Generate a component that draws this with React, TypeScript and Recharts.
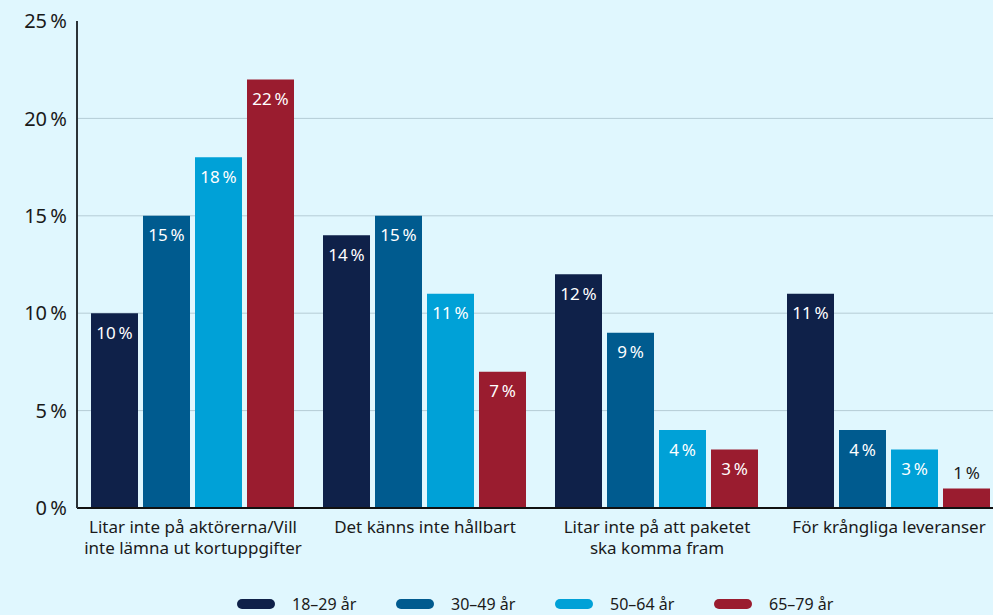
import { Bar, BarChart, CartesianGrid, LabelList, Legend, XAxis, YAxis } from "recharts";

const categories = [
  "Litar inte på aktörerna/Vill inte lämna ut kortuppgifter",
  "Det känns inte hållbart",
  "Litar inte på att paketet ska komma fram",
  "För krångliga leveranser",
];
const categoryLines = [
  ["Litar inte på aktörerna/Vill", "inte lämna ut kortuppgifter"],
  ["Det känns inte hållbart"],
  ["Litar inte på att paketet", "ska komma fram"],
  ["För krångliga leveranser"],
];
const age18to29 = [10, 14, 12, 11];
const age30to49 = [15, 15, 9, 4];
const age50to64 = [18, 11, 4, 3];
const age65to79 = [22, 7, 3, 1];
const yTicks = [0, 5, 10, 15, 20, 25];

const series = [
  { key: "a", name: "18–29 år", color: "#0f2149" },
  { key: "b", name: "30–49 år", color: "#005b8f" },
  { key: "c", name: "50–64 år", color: "#00a1d7" },
  { key: "d", name: "65–79 år", color: "#9a1c2f" },
];

const data = categories.map((c, i) => ({
  name: c,
  a: age18to29[i],
  b: age30to49[i],
  c: age50to64[i],
  d: age65to79[i],
}));

const FONT = "'Noto Sans', sans-serif";
const pct = (v: number) => `${v}\u202F%`;

function BarLabel(props: any) {
  const { x, y, width, height, value } = props;
  const inside = height > 30;
  return (
    <text
      x={x + width / 2}
      y={inside ? y + 19 : y - 16}
      textAnchor="middle"
      dominantBaseline="central"
      fill={inside ? "#ffffff" : "#1a1a1a"}
      fontSize={17}
      fontFamily={FONT}
    >
      {pct(value)}
    </text>
  );
}

function CategoryTick(props: any) {
  const { x, y, index } = props;
  const lines = categoryLines[index] ?? [];
  return (
    <g transform={`translate(${x},${y})`}>
      {lines.map((l: string, i: number) => (
        <text
          key={i}
          x={0}
          y={10 + i * 21}
          textAnchor="middle"
          dominantBaseline="central"
          fill="#1a1a1a"
          fontSize={17}
          fontFamily={FONT}
        >
          {l}
        </text>
      ))}
    </g>
  );
}

function LegendContent() {
  return (
    <div
      style={{
        display: "flex",
        justifyContent: "flex-start",
        paddingLeft: 237,
        fontFamily: FONT,
        fontSize: 16,
        lineHeight: "20px",
        height: 20,
        color: "#1a1a1a",
      }}
    >
      {series.map((s) => (
        <div key={s.key} style={{ display: "flex", alignItems: "center", width: 159 }}>
          <span
            style={{
              display: "inline-block",
              width: 38,
              height: 10,
              borderRadius: 5,
              background: s.color,
              marginRight: 17,
            }}
          />
          <span>{s.name}</span>
        </div>
      ))}
    </div>
  );
}

export default function App() {
  return (
    <div style={{ width: 993, height: 615, background: "#e0f7fe", overflow: "hidden" }}>
      <style>{"body{margin:0;background:#e0f7fe}"}</style>
      <BarChart
        width={1005}
        height={615}
        data={data}
        margin={{ top: 21, right: 0, bottom: 0, left: 0 }}
        barCategoryGap={14}
        barGap={5}
      >
        <CartesianGrid vertical={false} stroke="#b5ccd6" horizontalValues={[5, 10, 15, 20]} />
        <XAxis
          dataKey="name"
          height={83}
          tickLine={false}
          axisLine={{ stroke: "#111111", strokeWidth: 2 }}
          tick={<CategoryTick />}
          interval={0}
        />
        <YAxis
          width={77}
          domain={[0, 25]}
          ticks={yTicks}
          tickFormatter={pct}
          tickLine={false}
          axisLine={{ stroke: "#2b3338", strokeWidth: 2 }}
          tick={{ fill: "#1a1a1a", fontSize: 20, fontFamily: FONT }}
          tickMargin={4}
        />
        <Legend
          verticalAlign="bottom"
          align="left"
          height={24}
          wrapperStyle={{ left: 0, width: 993, bottom: -3 }}
          content={<LegendContent />}
        />
        {series.map((s) => (
          <Bar key={s.key} dataKey={s.key} name={s.name} fill={s.color} isAnimationActive={false}>
            <LabelList dataKey={s.key} content={<BarLabel />} />
          </Bar>
        ))}
      </BarChart>
    </div>
  );
}
